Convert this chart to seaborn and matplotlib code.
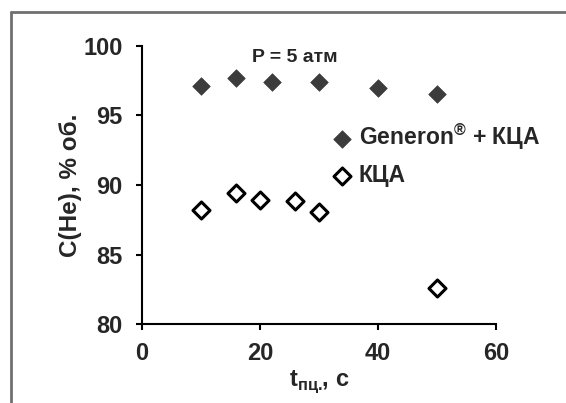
import matplotlib
matplotlib.use("Agg")
import matplotlib.pyplot as plt
import seaborn as sns
import pandas as pd
from matplotlib.lines import Line2D

# Data
t_generon = [10, 16, 22, 30, 40, 50]
c_generon = [97.1, 97.7, 97.4, 97.35, 96.95, 96.5]
t_kca = [10, 16, 20, 26, 30, 50]
c_kca = [88.2, 89.4, 88.9, 88.85, 88.05, 82.6]
label_generon = "Generon$^{\\mathregular{®}}$ + КЦА"
label_kca = "КЦА"

sns.set_style("white")
plt.rcParams["font.family"] = ["Liberation Sans", "DejaVu Sans"]
plt.rcParams["font.weight"] = "bold"
plt.rcParams["mathtext.fontset"] = "custom"
plt.rcParams["mathtext.rm"] = "Liberation Sans:bold"
plt.rcParams["mathtext.bf"] = "Liberation Sans:bold"

df_g = pd.DataFrame({"t": t_generon, "c": c_generon})
df_k = pd.DataFrame({"t": t_kca, "c": c_kca})

fig = plt.figure(figsize=(5.66, 4.03), dpi=100)
ax = fig.add_axes([0.251, 0.195, 0.625, 0.692])

sns.scatterplot(data=df_g, x="t", y="c", ax=ax, marker="D", s=80,
                color="#3c3c3c", edgecolor="#3c3c3c", linewidth=0.5,
                label=label_generon)
sns.scatterplot(data=df_k, x="t", y="c", ax=ax, marker="D", s=75,
                facecolor="white", edgecolor="black", linewidth=2.2,
                label=label_kca)

ax.set_xlim(0, 60)
ax.set_ylim(80, 100)
ax.set_xticks([0, 20, 40, 60])
ax.set_yticks([80, 85, 90, 95, 100])
ax.tick_params(axis="both", labelsize=17, direction="out", length=4,
               width=1.5, color="black", left=True, bottom=True)
ax.tick_params(axis="y", pad=10)
ax.tick_params(axis="x", pad=9)
for lab in ax.get_xticklabels() + ax.get_yticklabels():
    lab.set_fontweight("bold")

sns.despine(ax=ax)
for side in ["left", "bottom"]:
    ax.spines[side].set_color("black")
    ax.spines[side].set_linewidth(1.5)

ax.set_xlabel("t$_{\\mathregular{пц.}}\\!$, с", fontsize=17, fontweight="bold", labelpad=2)
ax.set_ylabel("C(He), % об.", fontsize=17.5, fontweight="bold", labelpad=1)

ax.text(25.9, 99.15, "P = 5 атм", fontsize=14, fontweight="bold", ha="center", va="center")

ax.legend(loc="upper left", bbox_to_anchor=(0.538, 0.727), frameon=False,
          prop={"size": 16.5, "weight": "bold"}, handlelength=0.8,
          handletextpad=0.35, labelspacing=0.52, borderaxespad=0, borderpad=0)

# partial grey frame of the original image (top and left edges only)
fig.add_artist(Line2D([0.0194, 0.0194], [0, 0.970], transform=fig.transFigure,
                      color="#707070", linewidth=2))
fig.add_artist(Line2D([0.0194, 1.0], [0.970, 0.970], transform=fig.transFigure,
                      color="#707070", linewidth=2))

fig.savefig("out.png", dpi=100)
